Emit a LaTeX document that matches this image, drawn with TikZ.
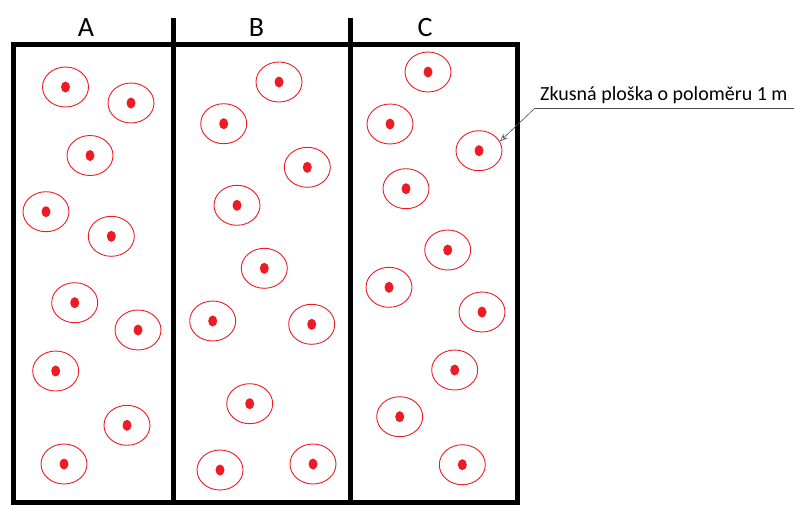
\documentclass[tikz,border=0pt]{standalone}
\usepackage{fontspec}
\setmainfont{Carlito}
\usetikzlibrary{shapes.geometric,arrows.meta}
\definecolor{plotred}{RGB}{237,28,36}
\begin{document}
\begin{tikzpicture}[x=1pt,y=-1pt,
  frame/.style={line width=5pt,black},
  plot/.style={ellipse,draw=plotred,line width=0.9pt,minimum width=46pt,minimum height=40pt,inner sep=0pt},
  colhead/.style={font=\fontsize{28}{30}\selectfont,anchor=base,inner sep=0pt},
  leader/.style={draw=black!70,line width=0.6pt},
  callout/.style={font=\fontsize{20}{22}\selectfont,anchor=base west,inner sep=0pt}]
\useasboundingbox (0,0) rectangle (794,504);
% frame
\draw[frame] (13,44.5) rectangle (517.5,502);
\draw[frame] (173.5,18) -- (173.5,502);
\draw[frame] (350.5,18) -- (350.5,502);
% column headings
\node[colhead] (hA) at (86,36) {A};
\node[colhead] (hB) at (256.5,36) {B};
\node[colhead] (hC) at (425,36) {C};
% sample plots
\foreach \n/\x/\y in {
  a1/65.5/87, a2/131/103, a3/90/155.5, a4/46/211.7, a5/111.3/236.3,
  a6/74.7/302.7, a7/138/330, a8/55.7/371, a9/127/425.3, a10/64/464,
  b1/279/82, b2/223.7/123.7, b3/307.3/167.3, b4/237/205.3, b5/264.3/268.3,
  b6/212.7/321, b7/311.7/324.3, b8/249.7/403.7, b9/220/470, b10/313/464,
  c1/428/72, c2/390/124, c3/479/150.7, c4/406/188.7, c5/447.7/250,
  c6/389/287.3, c7/482/312, c8/454.7/370, c9/399.7/416.7, c10/462.3/464.7}
{
  \node[plot] (\n) at (\x,\y) {};
  \fill[plotred] (\n.center) ellipse [x radius=4.5pt,y radius=5.5pt];
}
% callout
\node[callout] (lbl) at (540,100) {Zkusná ploška o poloměru 1 m};
\coordinate (ulstart) at (535,108);
\coordinate (ulend) at (794,108);
\draw[leader] (ulstart) -- (ulend);
\draw[leader,-{Stealth[open,length=8pt,width=6pt]}] (ulstart) -- (c3.24);
\end{tikzpicture}
\end{document}
